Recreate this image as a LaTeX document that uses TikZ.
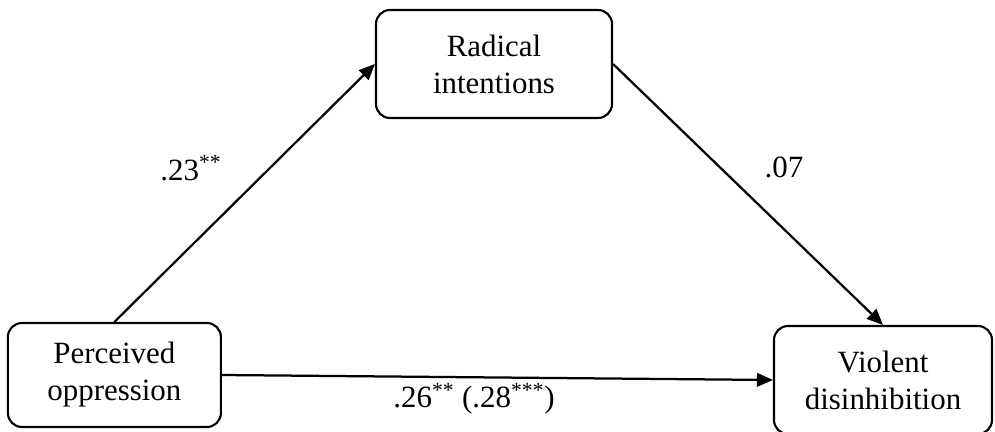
\documentclass[tikz,border=0pt]{standalone}
\usepackage{fontspec}
\setmainfont{Liberation Serif}
\usetikzlibrary{arrows.meta, positioning}
\tikzset{
    varBox/.style={rectangle, rounded corners=3.5mm, draw=black, line width=1.5pt, fill=white, align=center, inner sep=0pt, font=\fontsize{22}{26.3}\selectfont},
    pathArrow/.style={-{Triangle[length=4mm, width=3.4mm]}, line width=1.6pt},
    coefLabel/.style={font=\fontsize{22}{26.3}\selectfont, inner sep=0pt}
}

\begin{document}
\begin{tikzpicture}
    \useasboundingbox (0,0) rectangle (24.875,10.8);
    % the three variables
    \node[varBox, minimum width=5.325cm, minimum height=2.6cm] (Oppr) at (2.86,1.425) {Perceived\\oppression};
    \node[varBox, minimum width=5.9cm, minimum height=2.7cm] (Radi) at (12.35,9.2) {Radical\\intentions};
    \node[varBox, minimum width=5.45cm, minimum height=2.7cm] (Viol) at (22.075,1.3) {Violent\\disinhibition};
    % paths
    \draw[pathArrow] (Oppr.north)--(Radi.west);
    \draw[pathArrow] (Radi.east)--(Viol.north);
    \draw[pathArrow] (Oppr.east)--(Viol.west);
    % coefficients
    \node[coefLabel] (CoefA) at (4.775,6.6) {.23\textsuperscript{**}};
    \node[coefLabel] (CoefB) at (19.6,6.62) {.07};
    \node[coefLabel] (CoefC) at (11.85,0.83) {.26\textsuperscript{**} (.28\textsuperscript{***})};
\end{tikzpicture}
\end{document}
